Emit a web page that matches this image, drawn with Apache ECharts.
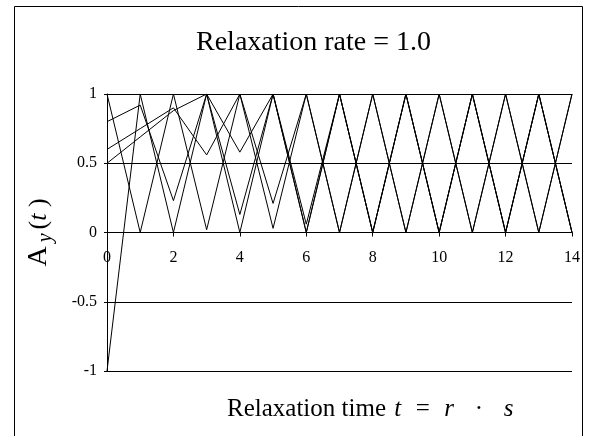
<!DOCTYPE html>
<html>
<head>
<meta charset="utf-8">
<script src="https://cdn.jsdelivr.net/npm/echarts@6/dist/echarts.min.js"></script>
<style>
html,body{margin:0;padding:0;background:#fff;}
#c{width:590px;height:436px;}
</style>
</head>
<body>
<div id="c"></div>
<script>
// time steps
var times = [0, 1, 2, 3, 4, 5, 6, 7, 8, 9, 10, 11, 12, 13, 14];
// A_y(t) for five initial conditions
var seriesStart1   = [1, 0, 1, 0.02, 1, 0.03, 1, 0, 1, 0, 1, 0, 1, 0, 1];
var seriesStartM1  = [-1, 1, 0, 1, 0, 1, 0, 1, 0, 1, 0, 1, 0, 1, 0];
var seriesStart08  = [0.8, 0.92, 0.23, 1, 0.13, 1, 0.06, 1, 0, 1, 0, 1, 0, 1, 0];
var seriesStart06  = [0.6, 0.75, 0.9, 0.56, 1, 0.21, 1, 0, 1, 0, 1, 0, 1, 0, 1];
var seriesStart05  = [0.5, 0.69, 0.88, 1, 0.58, 1, 0, 1, 0, 1, 0, 1, 0, 1, 0];
var allSeries = [seriesStart1, seriesStartM1, seriesStart08, seriesStart06, seriesStart05];
var yTicks = [-1, -0.5, 0, 0.5, 1];
var xTicks = [0, 2, 4, 6, 8, 10, 12, 14];

var FONT = '"Liberation Serif", "Times New Roman", serif';
var GRID_TOP = 94, GRID_BOTTOM = 65, CHART_H = 436;

var chart = echarts.init(document.getElementById('c'), null, {renderer: 'canvas'});

var series = allSeries.map(function (vals, k) {
  return {
    type: 'line',
    name: 'S' + k,
    data: times.map(function (t, i) { return [t, vals[i]]; }),
    symbol: 'none',
    smooth: false,
    lineStyle: {color: '#000', width: 1},
    silent: true,
    animation: false
  };
});

// x axis sits at y = 0, i.e. halfway up the plot (y range is symmetric -1..1)
var plotH = CHART_H - GRID_TOP - GRID_BOTTOM;

chart.setOption({
  animation: false,
  backgroundColor: '#fff',
  title: [{
    text: 'Relaxation rate = 1.0',
    left: 191,
    top: 24,
    textStyle: {fontFamily: FONT, fontSize: 28, fontWeight: 'normal', color: '#000'}
  }, {
    text: '{n|Relaxation time }{i|t}{n|  =  }{i|r}{n|   ·   }{i|s}',
    left: 222,
    top: 392,
    textStyle: {
      fontWeight: 'normal',
      rich: {
        n: {fontFamily: FONT, fontSize: 25, fontWeight: 'normal', color: '#000'},
        i: {fontFamily: FONT, fontSize: 25, fontWeight: 'normal', fontStyle: 'italic', color: '#000', padding: [0, 2, 0, 2]}
      }
    }
  }],
  graphic: [{
    type: 'rect',
    shape: {x: 14.5, y: 6.5, width: 568, height: 440},
    style: {fill: 'none', stroke: '#000', lineWidth: 1},
    silent: true
  }],
  grid: {left: 107, right: 18, top: GRID_TOP, bottom: GRID_BOTTOM, containLabel: false},
  xAxis: {
    type: 'value',
    min: xTicks[0],
    max: xTicks[xTicks.length - 1],
    interval: 2,
    position: 'bottom',
    offset: -plotH / 2,
    axisLine: {show: true, onZero: false, lineStyle: {color: '#000', width: 1}},
    axisTick: {show: true, inside: false, length: 4, lineStyle: {color: '#000'}},
    axisLabel: {fontFamily: FONT, fontSize: 16, color: '#000', margin: 17},
    splitLine: {show: false}
  },
  yAxis: {
    type: 'value',
    min: yTicks[0],
    max: yTicks[yTicks.length - 1],
    interval: 0.5,
    axisLine: {show: true, onZero: false, lineStyle: {color: '#000', width: 1}},
    axisTick: {show: true, inside: false, length: 3, lineStyle: {color: '#000'}},
    axisLabel: {fontFamily: FONT, fontSize: 16, color: '#000', margin: 10},
    splitLine: {show: true, lineStyle: {color: '#000', width: 1}},
    name: '{a|A}{s|y}{p|(}{i|t}{p| )}',
    nameLocation: 'middle',
    nameRotate: 90,
    nameGap: 51,
    nameTextStyle: {
      rich: {
        a: {fontFamily: FONT, fontSize: 28, color: '#000', verticalAlign: 'middle', lineHeight: 34, padding: [0, 4, 0, 0]},
        s: {fontFamily: FONT, fontSize: 20, fontStyle: 'italic', color: '#000', verticalAlign: 'bottom', lineHeight: 34, padding: [0, 4, 0, 0]},
        p: {fontFamily: FONT, fontSize: 26, color: '#000', verticalAlign: 'middle', lineHeight: 34},
        i: {fontFamily: FONT, fontSize: 26, fontStyle: 'italic', color: '#000', verticalAlign: 'middle', lineHeight: 34}
      }
    }
  },
  series: series
});
</script>
</body>
</html>
